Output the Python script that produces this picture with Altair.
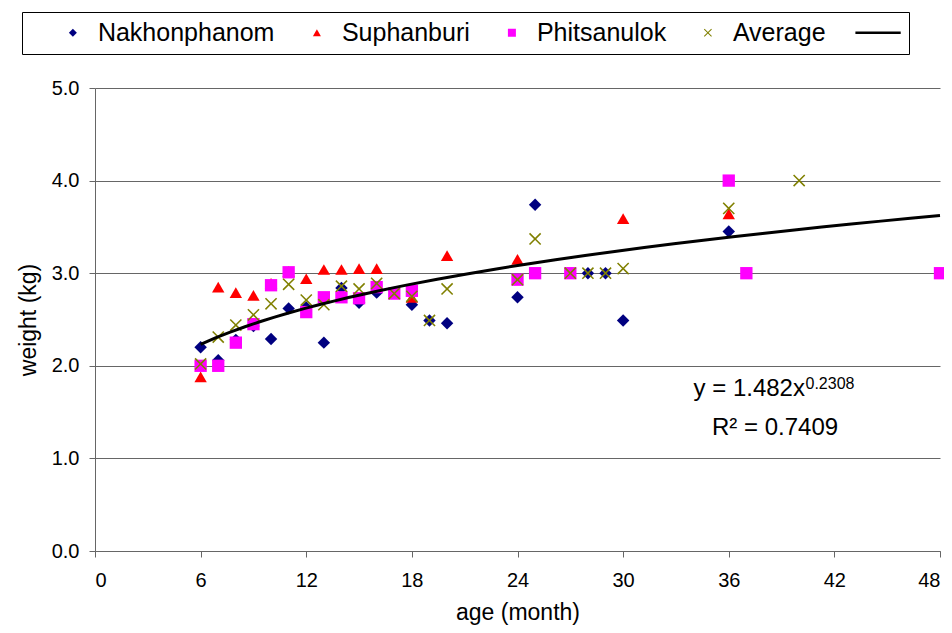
import altair as alt
import pandas as pd

FONT = "Liberation Sans"

series_names = ["Nakhonphanom", "Suphanburi", "Phitsanulok", "Average"]
series_colors = ["#000080", "#FF0000", "#FF00FF", "#808000", "#000000"]

ages_n = [6, 7, 8, 9, 10, 11, 12, 13, 14, 15, 16, 18, 19, 20, 24, 25, 28, 29, 30, 36]
w_n = [2.20, 2.06, 2.28, 2.43, 2.29, 2.62, 2.63, 2.25, 2.84, 2.68, 2.79, 2.66, 2.49, 2.46, 2.74, 3.74, 3.00, 3.00, 2.49, 3.45]

ages_s = [6, 7, 8, 9, 10, 11, 12, 13, 14, 15, 16, 18, 20, 24, 30, 36]
w_s = [1.88, 2.85, 2.79, 2.76, 2.89, 3.02, 2.94, 3.04, 3.04, 3.05, 3.05, 2.74, 3.19, 3.15, 3.59, 3.64]

ages_p = [6, 7, 8, 9, 10, 11, 12, 13, 14, 15, 16, 17, 18, 24, 25, 27, 36, 37, 48]
w_p = [2.00, 2.00, 2.25, 2.45, 2.87, 3.01, 2.58, 2.74, 2.74, 2.73, 2.85, 2.78, 2.81, 2.93, 3.00, 3.00, 4.00, 3.00, 3.00]

ages_a = [6, 7, 8, 9, 10, 11, 12, 13, 14, 15, 16, 17, 18, 19, 20, 24, 25, 27, 28, 29, 30, 36, 40]
w_a = [2.02, 2.31, 2.44, 2.55, 2.67, 2.88, 2.71, 2.66, 2.86, 2.83, 2.89, 2.78, 2.75, 2.49, 2.83, 2.93, 3.37, 3.00, 3.00, 3.00, 3.05, 3.70, 4.00]

x_ticks = [0, 6, 12, 18, 24, 30, 36, 42, 48]
y_ticks = [0, 1, 2, 3, 4, 5]

eq_main = "y = 1.482x"
eq_sup = "0.2308"
eq_r2 = "R\u00b2 = 0.7409"

rows = []
for name, ages, ws in zip(series_names, [ages_n, ages_s, ages_p, ages_a], [w_n, w_s, w_p, w_a]):
    for a, w in zip(ages, ws):
        rows.append({"series": name, "age": a, "weight": w})
df = pd.DataFrame(rows)
one = pd.DataFrame({"k": [0]})

X_PATH = "M-1,-0.82L-0.82,-1L0,-0.18L0.82,-1L1,-0.82L0.18,0L1,0.82L0.82,1L0,0.18L-0.82,1L-1,0.82L-0.18,0Z"
LINE_PATH = "M-3.125,-0.32L8.2,-0.32L8.2,0.32L-3.125,0.32Z"
legend_domain = series_names + ["Trend"]

x_scale = alt.Scale(domain=[0, 48], nice=False, zero=False)
y_scale = alt.Scale(domain=[0, 5], nice=False)

x_axis = alt.Axis(values=x_ticks, title="age (month)", grid=False, labelPadding=13, titlePadding=11,
                  labelFontSize=20, titleFontSize=23)
y_axis = alt.Axis(values=y_ticks, format=".1f", title="weight (kg)", grid=True, gridColor="#666666",
                  labelPadding=10, titlePadding=11, labelFontSize=20, titleFontSize=23)

legend = alt.Legend(
    orient="none", legendX=-73, legendY=-76, direction="horizontal", columns=5,
    title="W", titleOrient="left", titleOpacity=0, titleFontSize=16, titlePadding=14.4, titleFont=FONT,
    labelFont=FONT, labelFontSize=25, labelColor="black", labelOffset=12.5, labelLimit=400,
    columnPadding=29, symbolSize=64, symbolStrokeWidth=0, strokeColor="black", padding=8,
    fillColor="white", labelExpr="datum.label == 'Trend' ? '' : datum.label",
)

points = alt.Chart(df).mark_point(filled=True, opacity=1, strokeWidth=0).encode(
    x=alt.X("age:Q", scale=x_scale, axis=x_axis),
    y=alt.Y("weight:Q", scale=y_scale, axis=y_axis),
    color=alt.Color("series:N", scale=alt.Scale(domain=legend_domain, range=series_colors), legend=legend),
    shape=alt.Shape("series:N", scale=alt.Scale(domain=legend_domain,
                    range=["diamond", "triangle-up", "square", X_PATH, LINE_PATH]), legend=legend),
    size=alt.Size("series:N", scale=alt.Scale(domain=series_names, range=[155, 150, 120, 140]), legend=None),
)

trend = alt.Chart(df).transform_filter(
    alt.datum.series == "Average"
).transform_regression(
    "age", "weight", method="pow", extent=[6, 48]
).mark_line(color="black", strokeWidth=3).encode(
    x=alt.X("age:Q", scale=x_scale),
    y=alt.Y("weight:Q", scale=y_scale),
)

t1 = alt.Chart(one).mark_text(text=eq_main, align="right", baseline="alphabetic", font=FONT,
                              fontSize=24, color="black").encode(
    x=alt.X(datum=40.33, type="quantitative"), y=alt.Y(datum=1.674, type="quantitative"))
t2 = alt.Chart(one).mark_text(text=eq_sup, align="left", baseline="alphabetic", font=FONT,
                              fontSize=16, color="black").encode(
    x=alt.X(datum=40.36, type="quantitative"), y=alt.Y(datum=1.749, type="quantitative"))
t3 = alt.Chart(one).mark_text(text=eq_r2, align="center", baseline="alphabetic", font=FONT,
                              fontSize=24, color="black").encode(
    x=alt.X(datum=38.63, type="quantitative"), y=alt.Y(datum=1.253, type="quantitative"))

chart = alt.layer(points, trend, t1, t2, t3).properties(
    width=845, height=463,
    autosize=alt.AutoSizeParams(type="none"),
    padding={"left": 87, "top": 80, "right": 4, "bottom": 74},
).configure_axis(
    labelFont=FONT, titleFont=FONT, labelColor="black", titleColor="black",
    titleFontWeight="normal", domainColor="#666666", tickColor="#666666", tickSize=6,
).configure_view(strokeWidth=0)

chart.save("out.html", embed_options={"renderer": "svg", "actions": False})
